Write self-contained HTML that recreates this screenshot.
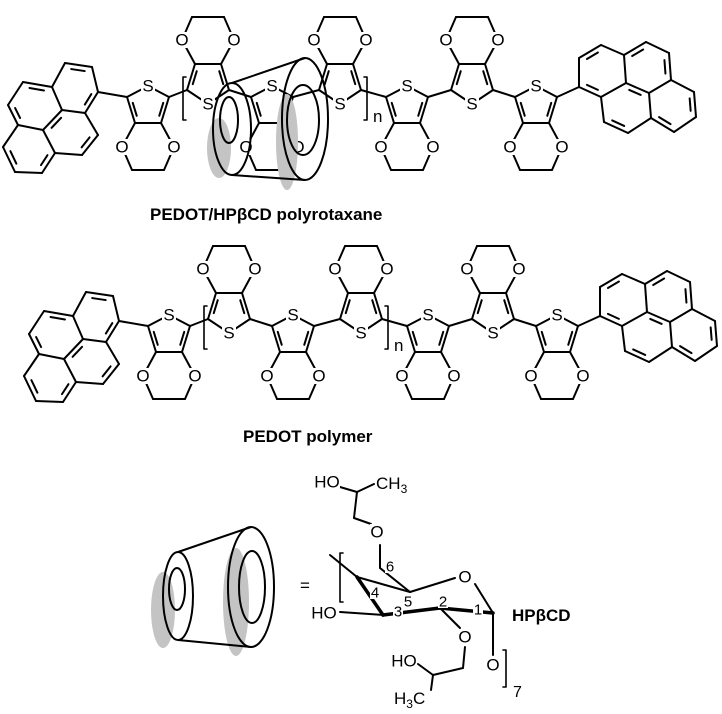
<!DOCTYPE html>
<html><head><meta charset="utf-8"><style>
html,body{margin:0;padding:0;background:#fff;}
svg{display:block;}
text{font-family:"Liberation Sans",sans-serif;fill:#000;}
.l{font-size:17px;text-anchor:middle;dominant-baseline:central;}
.n{font-size:15px;text-anchor:middle;dominant-baseline:central;}
.t{font-size:17px;font-weight:bold;}
</style></head><body>
<svg id="s" width="722" height="714" viewBox="0 0 722 714" xmlns="http://www.w3.org/2000/svg">
<g id="b" stroke="#000" stroke-width="2" fill="none" stroke-linejoin="round" stroke-linecap="round"></g>
<g id="labels">
<!-- row 1 -->
<text class="l" x="148" y="86">S</text><text class="l" x="122" y="147">O</text><text class="l" x="174" y="147">O</text>
<text class="l" x="208" y="104">S</text><text class="l" x="182" y="40">O</text><text class="l" x="234" y="40">O</text>
<text class="l" x="272" y="86">S</text><text class="l" x="246" y="147">O</text><text class="l" x="298" y="147">O</text>
<text class="l" x="340" y="104">S</text><text class="l" x="314" y="40">O</text><text class="l" x="366" y="40">O</text>
<text class="l" x="407" y="86">S</text><text class="l" x="381" y="147">O</text><text class="l" x="433" y="147">O</text>
<text class="l" x="472" y="104">S</text><text class="l" x="446" y="40">O</text><text class="l" x="498" y="40">O</text>
<text class="l" x="536" y="86">S</text><text class="l" x="510" y="147">O</text><text class="l" x="562" y="147">O</text>
<text x="373" y="122" style="font-size:17px">n</text>
<!-- row 2 -->
<text class="l" x="169" y="315">S</text><text class="l" x="143" y="376">O</text><text class="l" x="195" y="376">O</text>
<text class="l" x="229" y="333">S</text><text class="l" x="203" y="269">O</text><text class="l" x="255" y="269">O</text>
<text class="l" x="293" y="315">S</text><text class="l" x="267" y="376">O</text><text class="l" x="319" y="376">O</text>
<text class="l" x="361" y="333">S</text><text class="l" x="335" y="269">O</text><text class="l" x="387" y="269">O</text>
<text class="l" x="428" y="315">S</text><text class="l" x="402" y="376">O</text><text class="l" x="454" y="376">O</text>
<text class="l" x="493" y="333">S</text><text class="l" x="467" y="269">O</text><text class="l" x="519" y="269">O</text>
<text class="l" x="557" y="315">S</text><text class="l" x="531" y="376">O</text><text class="l" x="583" y="376">O</text>
<text x="394" y="351" style="font-size:17px">n</text>
<!-- titles -->
<text class="t" x="150" y="220">PEDOT/HPβCD polyrotaxane</text>
<text class="t" x="243" y="442">PEDOT polymer</text>
<!-- glucose -->
<text x="300" y="591" style="font-size:17px">=</text>
<text class="l" x="465" y="577">O</text>
<text class="l" x="377" y="532">O</text>
<text class="l" x="465" y="637">O</text>
<text class="l" x="493" y="665">O</text>
<text class="l" x="324" y="613">HO</text>
<text class="l" x="327" y="482">HO</text>
<text x="376" y="489" style="font-size:17px">CH<tspan dy="4" style="font-size:12px">3</tspan></text>
<text class="l" x="404" y="661">HO</text>
<text x="394" y="704" style="font-size:17px">H<tspan dy="4" style="font-size:12px">3</tspan><tspan dy="-4">C</tspan></text>
<text class="n" x="390" y="567">6</text>
<text class="n" x="375" y="593">4</text>
<text class="n" x="408" y="602">5</text>
<text class="n" x="398" y="612">3</text>
<text class="n" x="443" y="602">2</text>
<text class="n" x="478" y="610">1</text>
<text x="513" y="697" style="font-size:16px">7</text>
<text class="t" x="512" y="621">HPβCD</text>
</g>
<g id="c" stroke="#000" stroke-width="2" fill="none"></g>
</svg>
<script>
var NS='http://www.w3.org/2000/svg';
var B=document.getElementById('b'),C=document.getElementById('c');
// white knockouts behind labels
(function(){var g=document.getElementById('labels');var ts=g.querySelectorAll('text.l, text.n');
ts.forEach(function(t){var x=+t.getAttribute('x'),y=+t.getAttribute('y');var w=t.textContent.length;
var r=document.createElementNS(NS,'rect');var hw=t.classList.contains('n')?5:(w>1?13:7);var hh=t.classList.contains('n')?6:8;
r.setAttribute('x',x-hw);r.setAttribute('y',y-hh);r.setAttribute('width',2*hw);r.setAttribute('height',2*hh);r.setAttribute('fill','#fff');g.insertBefore(r,t);});})();
function L(g,x1,y1,x2,y2,w){var e=document.createElementNS(NS,'line');e.setAttribute('x1',x1);e.setAttribute('y1',y1);e.setAttribute('x2',x2);e.setAttribute('y2',y2);if(w)e.setAttribute('stroke-width',w);g.appendChild(e);}
function inner(p,q,c){var f=0.22,s=0.18;var px=p[0]+(c[0]-p[0])*f,py=p[1]+(c[1]-p[1])*f,qx=q[0]+(c[0]-q[0])*f,qy=q[1]+(c[1]-q[1])*f;var dx=qx-px,dy=qy-py;L(B,px+dx*s,py+dy*s,qx-dx*s,qy-dy*s);}
function edot(cx,y0,up,dx,dy){var k=up?-1:1;var P=function(x,y){return [cx+x+dx,y0+k*y+dy];};
var c2=P(-21,0),c5=P(21,0),c3=P(-13,26),c4=P(13,26),s=P(0,up?-14:-11),o1=P(-26,50),o2=P(26,50),h1=P(-16,73),h2=P(16,73),cen=P(0,10);
[[c2,s],[c5,s],[c2,c3],[c3,c4],[c4,c5],[c3,o1],[c4,o2],[o1,h1],[o2,h2],[h1,h2]].forEach(function(b){L(B,b[0][0],b[0][1],b[1][0],b[1][1]);});
inner(c2,c3,cen);inner(c4,c5,cen);return [c2,c5];}
function row(dx,dy){var cxs=[148,208,272,340,407,472,536],ends=[];
cxs.forEach(function(cx,i){var up=i%2==1;ends.push(edot(cx,up?90:97,up,dx,dy));});
for(var i=0;i<6;i++){L(B,ends[i][1][0],ends[i][1][1],ends[i+1][0][0],ends[i+1][0][1]);}
var p={a:[65,63],b:[92,67],c:[98,92],d:[85,113],e:[62,110],f:[52,87],g:[23,82],h:[8,105],i:[18,125],j:[43,130],k:[98,135],l:[82,155],m:[55,153],n:[42,173],o:[15,172],p:[3,147]};
for(var key in p){p[key]=[p[key][0]+dx,p[key][1]+dy];}
"ab bc cd de ef fa fg gh hi ij je dk kl lm mj mn no op pi".split(' ').forEach(function(s){L(B,p[s[0]][0],p[s[0]][1],p[s[1]][0],p[s[1]][1]);});
var R1=[76+dx,88+dy],R2=[34+dx,106+dy],R3=[70+dx,133+dy],R4=[29+dx,150+dy];
[['ab',R1],['cd',R1],['fg',R2],['hi',R2],['ej',R3],['kl',R3],['mn',R4],['op',R4]].forEach(function(t){inner(p[t[0][0]],p[t[0][1]],t[1]);});
L(B,p.c[0],p.c[1],ends[0][0][0],ends[0][0][1]);
var q={A:[579,58],B:[601,45],C:[624,55],D:[646,42],E:[669,53],F:[671,80],G:[694,92],H:[696,117],I:[674,132],J:[651,118],K:[628,133],L:[604,122],M:[601,97],N:[579,87],O:[626,83],P:[649,93]};
for(var key in q){q[key]=[q[key][0]+dx,q[key][1]+dy];}
"AB BC CO OM MN NA CD DE EF FP PO FG GH HI IJ JP JK KL LM".split(' ').forEach(function(s){L(B,q[s[0]][0],q[s[0]][1],q[s[1]][0],q[s[1]][1]);});
var S1=[601+dx,71+dy],S2=[647+dx,68+dy],S3=[673+dx,105+dy],S4=[626+dx,108+dy];
[['AB',S1],['MN',S1],['CD',S2],['EF',S2],['GH',S3],['IJ',S3],['KL',S4],['OP',S4]].forEach(function(t){inner(q[t[0][0]],q[t[0][1]],t[1]);});
L(B,q.N[0],q.N[1],ends[6][1][0],ends[6][1][1]);
}
row(0,0);row(21,229);
function br(x,y1,y2,d){var e=document.createElementNS(NS,'path');e.setAttribute('d','M'+(x+d)+','+y1+' L'+x+','+y1+' L'+x+','+y2+' L'+(x+d)+','+y2);e.setAttribute('stroke-width','1.6');B.appendChild(e);}
br(183,77,120,3);br(367,77,120,-3);br(204,306,349,3);br(388,306,349,-3);br(340,553,602,3);br(506,650,687,-3);
[[357,577,410,592],[410,592,455,578],[475,584,493,613],[330,555,357,577],[340,612,383,615],[410,592,380,568],[380,568,380,545],[371,524,354,518],[354,518,357,492],[340,487,357,492],[357,492,374,484],
[440,608,460,628],[465,647,463,668],[463,668,433,675],[433,675,418,664],[433,675,431,690],[493,613,493,655]].forEach(function(b){L(B,b[0],b[1],b[2],b[3]);});
[[357,577,383,615],[383,615,440,608],[440,608,493,613]].forEach(function(b){L(B,b[0],b[1],b[2],b[3],3.5);});
function E(g,cx,cy,rx,ry,st){var e=document.createElementNS(NS,'ellipse');e.setAttribute('cx',cx);e.setAttribute('cy',cy);e.setAttribute('rx',rx);e.setAttribute('ry',ry);if(st){e.setAttribute('fill','#c4c4c4');e.setAttribute('stroke','none');}g.appendChild(e);}
function cone(s){
E(C,s.g1[0],s.g1[1],s.g1[2],s.g1[3],1);E(C,s.g2[0],s.g2[1],s.g2[2],s.g2[3],1);
E(C,s.so[0],s.so[1],s.so[2],s.so[3]);E(C,s.si[0],s.si[1],s.si[2],s.si[3]);E(C,s.bo[0],s.bo[1],s.bo[2],s.bo[3]);E(C,s.bi[0],s.bi[1],s.bi[2],s.bi[3]);
L(C,s.so[0],s.so[1]-s.so[3],s.bo[0],s.bo[1]-s.bo[3]);L(C,s.so[0],s.so[1]+s.so[3],s.bo[0],s.bo[1]+s.bo[3]);}
cone({so:[232,129,19,46],si:[229,120,9,23],bo:[305,119,23,61],bi:[303,120,16,35],g1:[219,148,12,30],g2:[287,142,11,48]});
cone({so:[178,596,15,44],si:[177,589,8,21],bo:[251,587,23,60],bi:[252,587,13,36],g1:[163,610,12,38],g2:[236,602,13,54]});
</script>
</body></html>
